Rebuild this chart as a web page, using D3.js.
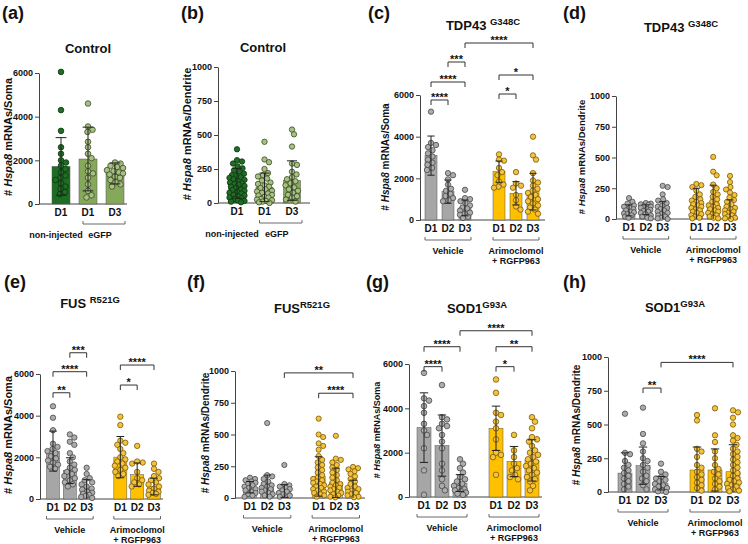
<!DOCTYPE html>
<html><head><meta charset="utf-8">
<script src="https://cdn.jsdelivr.net/npm/d3@7"></script>
<style>
body{margin:0;background:#fff}
svg text{font-family:"Liberation Sans",Arial,sans-serif;font-weight:bold;fill:#111}
</style>
</head><body>
<svg id="fig" width="748" height="544"></svg>
<script>
// ---------------- DATA ----------------
const ctrlKeys = ["NI-D1","eGFP-D1","eGFP-D3"];
const ctrlTicks = ["D1","D1","D3"];
const treatKeys = ["Veh-D1","Veh-D2","Veh-D3","Ari-D1","Ari-D2","Ari-D3"];
const treatTicks = ["D1","D2","D3","D1","D2","D3"];
const somaTicks = [0,2000,4000,6000];
const dendTicks = [0,250,500,750,1000];

// (a) Control soma
const aMean = [1720,2060,1400], aSD = [1320,1460,480];
const aNI = [6050,4300,3350,2600,2300,2000,1900,1750,1600,1450,1300,1200,1100,950,800,700,550,450];
const aG1 = [4600,3550,3400,3300,2850,2600,2300,2100,1750,1500,1400,1200,900,600,400,300];
const aG3 = [1900,1850,1750,1700,1650,1550,1500,1450,1400,1350,1250,1200,1100,1000,900,800];
// (b) Control dendrite
const bMean = [145,115,165], bSD = [110,105,145];
const bNI = [395,315,305,290,270,255,240,230,215,205,200,190,185,175,170,160,150,145,140,135,125,120,110,100,95,90,80,75,70,60,55,50,40,35,30,20,15,10,5];
const bG1 = [450,320,300,250,220,205,195,180,165,150,140,130,120,110,100,90,85,75,70,60,55,45,40,30,25,20,15,10,5,0];
const bG3 = [540,505,415,290,280,230,210,190,175,160,145,130,115,100,90,75,60,50,40,25,10];
// (c) TDP43 soma
const cMean = [3090,1360,580,2320,1280,1360], cSD = [940,560,380,510,560,880];
const cV1 = [5200,3700,3600,3500,3350,3200,3050,2900,2750,2650,2500,2400];
const cV2 = [2250,2150,1950,1700,1500,1400,1250,1150,1050,950,900];
const cV3 = [1450,1050,1000,900,800,700,600,550,450,350,300,250,150,100];
const cA1 = [3150,2900,2850,2500,2300,2150,1850,1700,1600,1550];
const cA2 = [2300,1750,1650,1550,1200,950,650,500];
const cA3 = [4000,3100,2900,2250,1900,1800,1650,1500,1400,1300,1200,1100,1000,900,800,700,600,500,400,300];
const cSig = [["Veh-D1","Veh-D2",5760,"****"],["Veh-D1","Veh-D3",6624,"****"],["Veh-D2","Veh-D3",7584,"***"],["Veh-D3","Ari-D3",8496,"****"],["Ari-D1","Ari-D2",6048,"*"],["Ari-D1","Ari-D3",6960,"*"]];
// (d) TDP43 dendrite
const dMean = [70,75,65,120,130,75], dSD = [45,40,75,130,145,80];
const dV1 = [170,140,125,110,100,90,80,70,60,55,45,40,30,20,10];
const dV2 = [130,125,120,115,105,100,90,80,75,65,60,50,40,30,20,10,5];
const dV3 = [270,260,200,160,150,130,110,100,90,80,70,60,50,40,30,20,10,5,0];
const dA1 = [285,275,260,230,200,180,160,150,140,130,120,110,100,90,80,70,60,50,40,30,20,10,5];
const dA2 = [505,385,355,280,250,220,200,180,160,140,120,110,100,90,80,70,60,50,40,30,20,10,5];
const dA3 = [350,300,260,240,215,195,175,155,140,120,100,90,80,70,60,50,40,30,20,10,5,0];
const dSig = [];
// (e) FUS soma
const eMean = [2300,1360,450,2010,1170,600], eSD = [960,620,480,990,560,400];
const eV1 = [4450,3900,3300,2650,2500,2400,2300,2200,2050,1950,1850,1750,1650,1550,1450];
const eV2 = [3100,2950,2750,2600,2200,2000,1800,1650,1500,1400,1300,1200,1100,1000,900,800,700,600];
const eV3 = [1500,1200,1000,900,800,700,600,500,450,350,300,250,200,150,100,50];
const eA1 = [3950,3550,2800,2700,2600,2400,2200,2000,1900,1800,1700,1600,1500,1400,1300,1200,1100];
const eA2 = [2550,1800,1750,1700,1300,1000,900,800,700,600];
const eA3 = [1700,1450,1300,1100,1000,900,800,700,600,500,400,350,300,250,200];
const eSig = [["Veh-D1","Veh-D2",5100,"**"],["Veh-D1","Veh-D3",6110,"****"],["Veh-D2","Veh-D3",7020,"***"],["Ari-D1","Ari-D2",5470,"*"],["Ari-D1","Ari-D3",6430,"****"]];
// (f) FUS dendrite
const fMean = [85,80,55,170,120,70], fSD = [45,100,50,155,115,70];
const fV1 = [160,150,140,130,120,110,100,90,80,70,60,50,40,30,20,10];
const fV2 = [590,180,170,150,130,110,100,90,80,70,60,50,40,30,20,10];
const fV3 = [260,110,100,90,80,70,60,50,40,30,20,10];
const fA1 = [625,500,480,430,410,380,330,300,280,260,240,220,200,180,160,150,140,130,120,110,100,90,80,70,60,50,40,30,20,10];
const fA2 = [490,310,300,280,260,240,220,200,180,160,140,120,110,100,90,80,70,60,50,40,30,20,10,5];
const fA3 = [245,235,225,210,190,170,150,130,110,90,80,70,60,50,40,30,20,10,5];
const fSig = [["Veh-D3","Ari-D3",985,"**"],["Ari-D1","Ari-D3",825,"****"]];
// (g) SOD1 soma
const gMean = [3130,2320,630,3100,1600,1650], gSD = [1570,1380,380,1000,680,930];
const gV1 = [5600,4450,4350,4100,3800,3300,3000,2800,2200,1200,100];
const gV2 = [5050,3600,3500,3300,3200,3100,2800,2500,2200,1500,1200,800,500,300];
const gV3 = [1700,1500,1300,1100,900,800,700,600,500,400,350,300,250,200,150,100];
const gA1 = [5300,4700,3800,3700,3400,3100,2600,2000,1900,1800,1000];
const gA2 = [2800,2100,1800,1500,1300,1200,1000,900,800];
const gA3 = [3600,3400,3100,2700,2600,2500,2300,2100,2000,1900,1800,1700,1600,1500,1400,1300,1200,1100,1000,900,800,700,500,300];
const gSig = [["Veh-D1","Veh-D2",5880,"****"],["Veh-D1","Veh-D3",6780,"****"],["Veh-D3","Ari-D3",7500,"****"],["Ari-D1","Ari-D2",5880,"*"],["Ari-D1","Ari-D3",6780,"**"]];
// (h) SOD1 dendrite
const hMean = [140,195,65,163,163,150], hSD = [150,138,50,170,156,200];
const hV1 = [580,290,280,230,200,180,160,140,120,100,80,60,40,20];
const hV2 = [625,430,360,300,250,230,200,180,150,120,100,80,50,20];
const hV3 = [210,150,130,110,100,90,80,60,50,40,30,20,10,5,0];
const hA1 = [570,530,320,300,260,200,180,150,130,110,90,70,50,30,10];
const hA2 = [620,420,370,300,250,200,170,150,130,100,80,60,40,20];
const hA3 = [605,590,550,500,420,400,380,350,320,300,280,260,240,220,200,180,160,140,120,100,90,80,70,60,50,40,30,20,10,5];
const hSig = [["Veh-D2","Veh-D3",770,"**"],["Veh-D3","Ari-D3",960,"****"]];

// ---------------- STYLE ----------------
const colNI = {bar:"#1d6e23", dot:"#216d25", st:"#0b3510"};
const colGFP = {bar:"#86a85a", dot:"#a8c183", st:"#394a25"};
const colVeh = {bar:"#a6a6a6", dot:"#acacac", st:"#474747"};
const colAri = {bar:"#ffc000", dot:"#f4c23c", st:"#75580a"};

const svg = d3.select("#fig");

const panels = [
 {lab:"(a)", lx:2, ly:19, keys:ctrlKeys, ticks:ctrlTicks, ctrl:true, means:aMean, sds:aSD, pts:[aNI,aG1,aG3], cols:[colNI,colGFP,colGFP],
  yMax:6000, yt:somaTicks, ax:39, y0:204, yTop:73, xr:[61,115], bw:18, axEnd:127, title:{m:"Control",s:"",x:88,y:53}, yl:{u:"Soma",x:8,y:137,fs:11}, sig:[], r:2.8},
 {lab:"(b)", lx:181, ly:19, keys:ctrlKeys, ticks:ctrlTicks, ctrl:true, means:bMean, sds:bSD, pts:[bNI,bG1,bG3], cols:[colNI,colGFP,colGFP],
  yMax:1000, yt:dendTicks, ax:218, y0:203, yTop:67, xr:[237,292], bw:17, axEnd:310, title:{m:"Control",s:"",x:263,y:52}, yl:{u:"Dendrite",x:187,y:134,fs:11}, sig:[], r:2.7},
 {lab:"(c)", lx:368, ly:19, keys:treatKeys, ticks:treatTicks, means:cMean, sds:cSD, pts:[cV1,cV2,cV3,cA1,cA2,cA3],
  yMax:6000, yt:somaTicks, ax:420, y0:220, yTop:95, xr:[431,533], bw:12, axEnd:545, title:{m:"TDP43 ",s:"G348C",x:483,y:30}, yl:{u:"Soma",x:385,y:157,fs:10}, sig:cSig, r:2.7},
 {lab:"(d)", lx:563, ly:19, keys:treatKeys, ticks:treatTicks, means:dMean, sds:dSD, pts:[dV1,dV2,dV3,dA1,dA2,dA3],
  yMax:1000, yt:dendTicks, ax:616, y0:219, yTop:96, xr:[629,730], bw:12, axEnd:738, title:{m:"TDP43 ",s:"G348C",x:681,y:32}, yl:{u:"Dendrite",x:581,y:157,fs:9.5}, sig:dSig, r:2.6},
 {lab:"(e)", lx:4, ly:288, keys:treatKeys, ticks:treatTicks, means:eMean, sds:eSD, pts:[eV1,eV2,eV3,eA1,eA2,eA3],
  yMax:6000, yt:somaTicks, ax:40, y0:499, yTop:374, xr:[53,154], bw:13, axEnd:163, title:{m:"FUS ",s:"R521G",x:90,y:308}, yl:{u:"Soma",x:8,y:435,fs:11}, sig:eSig, r:2.7},
 {lab:"(f)", lx:187, ly:288, keys:treatKeys, ticks:treatTicks, means:fMean, sds:fSD, pts:[fV1,fV2,fV3,fA1,fA2,fA3],
  yMax:1000, yt:dendTicks, ax:235, y0:498, yTop:371, xr:[250,353], bw:13, axEnd:365, title:{m:"FUS",s:"R521G",x:302,y:313}, yl:{u:"Dendrite",x:205,y:433,fs:10}, sig:fSig, r:2.6},
 {lab:"(g)", lx:366, ly:288, keys:treatKeys, ticks:treatTicks, means:gMean, sds:gSD, pts:[gV1,gV2,gV3,gA1,gA2,gA3],
  yMax:6000, yt:somaTicks, ax:409, y0:497, yTop:364, xr:[424,532], bw:14, axEnd:542, title:{m:"SOD1",s:"G93A",x:477,y:313}, yl:{u:"Soma",x:377,y:430,fs:9},  sig:gSig, r:2.8},
 {lab:"(h)", lx:563, ly:288, keys:treatKeys, ticks:treatTicks, means:hMean, sds:hSD, pts:[hV1,hV2,hV3,hA1,hA2,hA3],
  yMax:1000, yt:dendTicks, ax:608, y0:492, yTop:357, xr:[625,733], bw:14, axEnd:740, title:{m:"SOD1",s:"G93A",x:675,y:312}, yl:{u:"Dendrite",x:576,y:425,fs:10}, sig:hSig, r:2.7}
];

function swarm(vals, cx, y, maxOff, r){
  const placed = [];
  return vals.map(v => {
    const py = y(v);
    const cands = [0];
    for (let k = 0.5; k <= maxOff; k += 0.5) cands.push(k, -k);
    let best = 0, bestScore = -1;
    for (const dx of cands){
      let md = Infinity;
      for (const p of placed){ const d = Math.hypot(p.x - (cx+dx), p.y - py); if (d < md) md = d; }
      if (md >= 2*r*0.95){ best = dx; break; }
      if (md > bestScore){ bestScore = md; best = dx; }
    }
    const p = {v, x: cx+best, y: py};
    placed.push(p);
    return p;
  });
}

panels.forEach(P => {
  const g = svg.append("g");
  const domain = P.ctrl ? P.keys : ["Veh-D1","Veh-D2","Veh-D3","_gap","Ari-D1","Ari-D2","Ari-D3"];
  const x = d3.scalePoint().domain(domain).range(P.xr);
  const y = d3.scaleLinear().domain([0, P.yMax]).range([P.y0, P.yTop]);
  const cols = P.cols || [colVeh,colVeh,colVeh,colAri,colAri,colAri];

  g.append("text").attr("x", P.lx).attr("y", P.ly).attr("font-size", 18).text(P.lab);
  const t = g.append("text").attr("x", P.title.x).attr("y", P.title.y).attr("text-anchor","middle").attr("font-size",13);
  t.append("tspan").text(P.title.m);
  if (P.title.s) t.append("tspan").attr("dy",-5).attr("font-size",9.5).text(P.title.s);

  const yAxis = d3.axisLeft(y).tickValues(P.yt).tickSize(4).tickSizeOuter(0).tickPadding(2).tickFormat(d3.format("d"));
  const ya = g.append("g").attr("transform",`translate(${P.ax},0)`).call(yAxis);
  ya.selectAll("path,line").attr("stroke","#444").attr("stroke-width",1);
  ya.selectAll("text").attr("font-size",9).attr("font-family","Liberation Sans, Arial, sans-serif").attr("font-weight","bold").attr("fill","#111");

  const yt = g.append("text").attr("transform",`translate(${P.yl.x},${P.yl.y}) rotate(-90)`)
    .attr("text-anchor","middle").attr("dominant-baseline","central").attr("font-size",P.yl.fs);
  yt.append("tspan").text("# ");
  yt.append("tspan").attr("font-style","italic").text("Hspa8");
  yt.append("tspan").text(" mRNAs/" + P.yl.u);

  g.append("line").attr("x1",P.ax).attr("x2",P.axEnd).attr("y1",y(0)).attr("y2",y(0)).attr("stroke","#444").attr("stroke-width",1);
  P.keys.forEach((k,i) => {
    g.append("text").attr("x", x(k)).attr("y", y(0)+12).attr("text-anchor","middle").attr("font-size",10).text(P.ticks[i]);
  });

  P.keys.forEach((k,i) => {
    g.append("rect").attr("x", x(k)-P.bw/2).attr("y", y(P.means[i])).attr("width", P.bw)
      .attr("height", y(0)-y(P.means[i])).attr("fill", cols[i].bar).attr("stroke","#555").attr("stroke-width",0.5);
  });
  P.keys.forEach((k,i) => {
    const pts = swarm(P.pts[i], x(k), y, P.bw/2 - 1, P.r);
    g.selectAll(null).data(pts).enter().append("circle")
      .attr("cx", d => d.x).attr("cy", d => d.y).attr("r", P.r)
      .attr("fill", cols[i].dot).attr("stroke", cols[i].st).attr("stroke-width",0.8);
  });
  P.keys.forEach((k,i) => {
    const cx = x(k), hi = y(P.means[i]+P.sds[i]), lo = y(Math.max(0,P.means[i]-P.sds[i]));
    const cw = P.bw*0.3;
    g.append("line").attr("x1",cx).attr("x2",cx).attr("y1",hi).attr("y2",lo).attr("stroke","#222").attr("stroke-width",1);
    g.append("line").attr("x1",cx-cw).attr("x2",cx+cw).attr("y1",hi).attr("y2",hi).attr("stroke","#222").attr("stroke-width",1);
    if (P.means[i]-P.sds[i] > 0)
      g.append("line").attr("x1",cx-cw).attr("x2",cx+cw).attr("y1",lo).attr("y2",lo).attr("stroke","#222").attr("stroke-width",1);
  });

  P.sig.forEach(s => {
    const x1 = x(s[0]), x2 = x(s[1]), yy = y(s[2]);
    g.append("path").attr("d", `M${x1},${yy+5}V${yy}H${x2}V${yy+5}`).attr("fill","none").attr("stroke","#333").attr("stroke-width",1);
    g.append("text").attr("x",(x1+x2)/2).attr("y",yy+1).attr("text-anchor","middle").attr("font-size",11).text(s[3]);
  });

  const by = y(0) + 20;
  const half = P.bw/2;
  function grp(xa, xb){
    g.append("path").attr("d", `M${xa},${by-3}V${by}H${xb}V${by-3}`).attr("fill","none").attr("stroke","#444").attr("stroke-width",0.8);
  }
  if (P.ctrl){
    const xa = x("eGFP-D1")-5, xb = x("eGFP-D3")+10;
    grp(xa, xb);
    g.append("text").attr("x", x("NI-D1")-5).attr("y", by+14).attr("text-anchor","middle").attr("font-size",9).text("non-injected");
    g.append("text").attr("x", (xa+xb)/2 - 4).attr("y", by+14).attr("text-anchor","middle").attr("font-size",9).text("eGFP");
  } else {
    const va = x("Veh-D1")-half, vb = x("Veh-D3")+half, aa = x("Ari-D1")-half, ab = x("Ari-D3")+half;
    grp(va, vb); grp(aa, ab);
    g.append("text").attr("x",(va+vb)/2).attr("y",by+14).attr("text-anchor","middle").attr("font-size",9).text("Vehicle");
    g.append("text").attr("x",(aa+ab)/2).attr("y",by+14).attr("text-anchor","middle").attr("font-size",9).text("Arimoclomol");
    g.append("text").attr("x",(aa+ab)/2).attr("y",by+24).attr("text-anchor","middle").attr("font-size",9).text("+ RGFP963");
  }
});
</script>
</body></html>
